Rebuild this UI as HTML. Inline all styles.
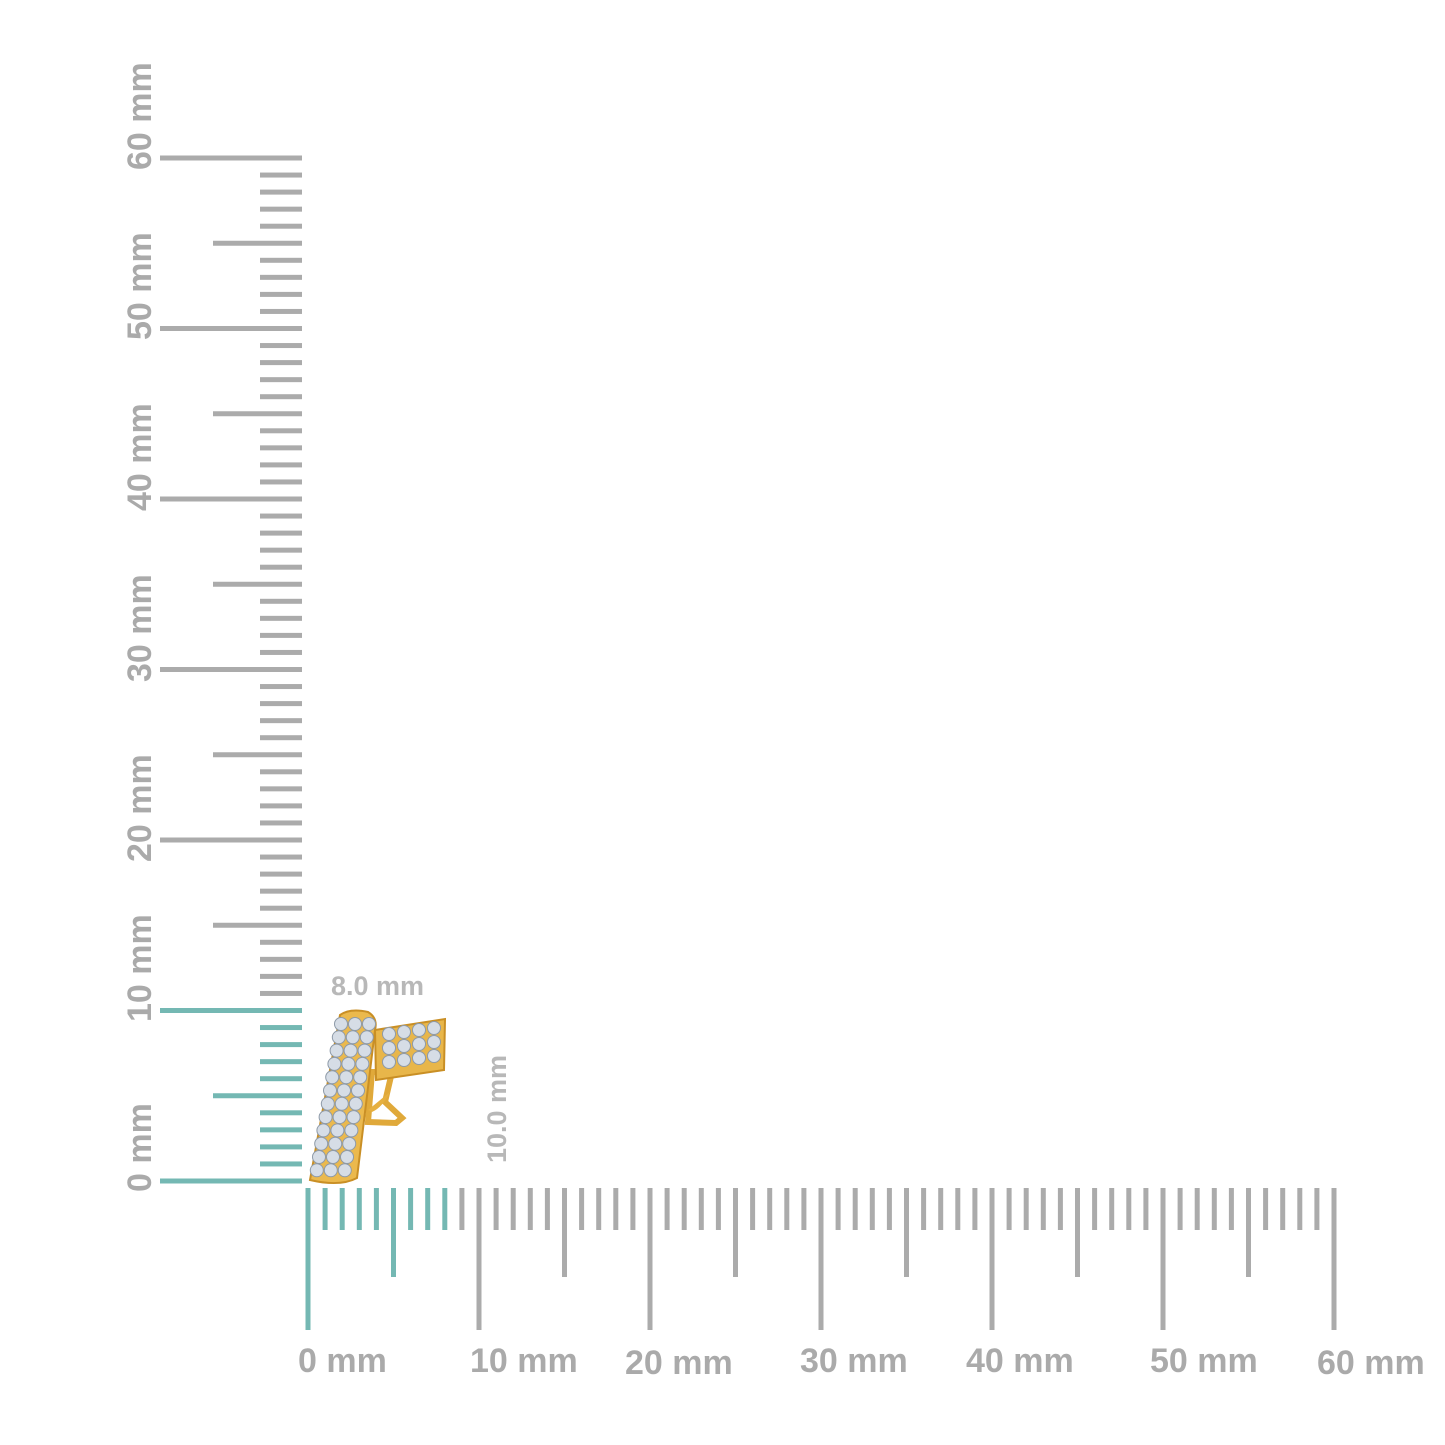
<!DOCTYPE html>
<html><head><meta charset="utf-8"><style>
html,body{margin:0;padding:0;background:#fff;}
svg{display:block}
text{font-family:"Liberation Sans",sans-serif;font-weight:bold;fill:#aaaaaa;font-size:34px}
</style></head><body>
<svg id="s" width="1445" height="1445" viewBox="0 0 1445 1445" xmlns="http://www.w3.org/2000/svg">
<g id="ticks"></g>
<text x="298" y="1372">0 mm</text>
<text x="470" y="1372">10 mm</text>
<text x="625" y="1374">20 mm</text>
<text x="800" y="1372">30 mm</text>
<text x="966" y="1372">40 mm</text>
<text x="1150" y="1372">50 mm</text>
<text x="1317" y="1374">60 mm</text>
<text transform="translate(151,170) rotate(-90)">60 mm</text>
<text transform="translate(151,340) rotate(-90)">50 mm</text>
<text transform="translate(151,511) rotate(-90)">40 mm</text>
<text transform="translate(151,682) rotate(-90)">30 mm</text>
<text transform="translate(151,862) rotate(-90)">20 mm</text>
<text transform="translate(151,1022) rotate(-90)">10 mm</text>
<text transform="translate(151,1192) rotate(-90)">0 mm</text>
<text x="331" y="995" style="font-size:27px;fill:#b8b8b8">8.0 mm</text>
<text transform="translate(506,1163) rotate(-90)" style="font-size:27px;fill:#b8b8b8">10.0 mm</text>
<g>
<path d="M372,1072 L392,1072 L385,1102 L402,1118 L396,1123 L368,1122 Z" fill="none" stroke="#e0a93a" stroke-width="6"/>
<path d="M368,1110 Q380,1100 390,1092 Q382,1108 372,1112Z" fill="#e6b040"/>
<path d="M375,1030 L445,1019 L444,1070 L376,1080 Z" fill="#e8b64a" stroke="#c98f25" stroke-width="2"/>
<path d="M340,1015 Q350,1008 368,1012 Q378,1018 375,1030 L357,1178 Q340,1187 310,1180 Z" fill="#ebb94d" stroke="#c98f25" stroke-width="2"/>
<g id="gems" fill="#d6dde6" stroke="#8e9aa8" stroke-width="1"></g>
</g>
</svg>
<script>
var g=document.getElementById('ticks'),ns='http://www.w3.org/2000/svg',pv=17.05,ph=17.1;
function r(x,y,w,h,c){var e=document.createElementNS(ns,'rect');e.setAttribute('x',x);e.setAttribute('y',y);e.setAttribute('width',w);e.setAttribute('height',h);e.setAttribute('fill',c);g.appendChild(e);}
var T='#74b8b3',G='#ababab';
for(var i=0;i<=60;i++){
 var y=1181-i*pv, c=i<=10?T:G;
 var x0=i%10==0?160:(i%5==0?213:260);
 r(x0,y-2.5,302-x0,5,c);
 var x=308+i*ph, c2=i<=8?T:G;
 var y1=i%10==0?1330:(i%5==0?1277:1230);
 r(x-2.5,1188,5,y1-1188,c2);
}
var gm=document.getElementById('gems');
function d(cx,cy){var e=document.createElementNS(ns,'circle');e.setAttribute('cx',cx);e.setAttribute('cy',cy);e.setAttribute('r',6.5);gm.appendChild(e);}
for(var k=0;k<12;k++){for(var j=0;j<3;j++){d(341+j*14-k*2.2,1024+k*13.3);}}
for(var k=0;k<3;k++){for(var j=0;j<4;j++){d(389+j*15,1034+k*14-j*2);}}
</script>
</body></html>
